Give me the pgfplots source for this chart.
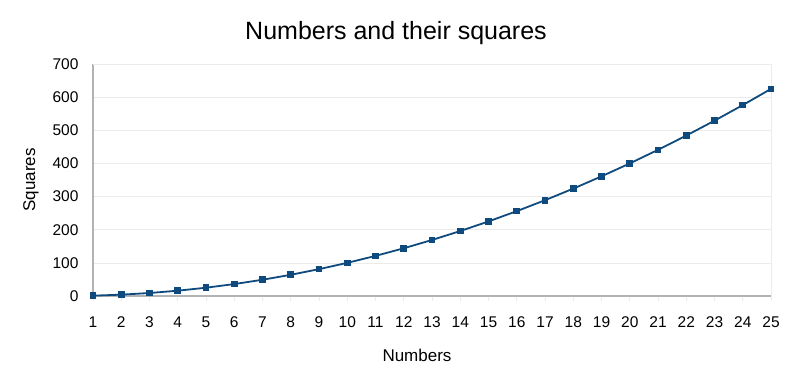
\documentclass[border=0pt]{standalone}
\usepackage{pgfplots}
\pgfplotsset{compat=1.18}
\usepackage{fontspec}
\setmainfont{Liberation Sans}
\definecolor{lineblue}{HTML}{0F4A7E}
\definecolor{gridc}{HTML}{EBEBEB}
\definecolor{axc}{HTML}{B3B3B3}
\begin{document}
\begin{tikzpicture}[x=1pt,y=1pt]
\useasboundingbox (-93,-78) rectangle (699,296);
\begin{axis}[
  at={(0,0)}, anchor=south west,
  scale only axis, width=678pt, height=232pt,
  xmin=1, xmax=25, ymin=0, ymax=700,
  xtick={1,...,25}, ytick={0,100,...,700},
  axis x line*=bottom, axis y line*=left,
  axis line style={axc, line width=1.2pt, -},
  ymajorgrids, grid style={gridc, line width=0.6pt},
  tick style={axc, line width=0.6pt},
  xtick style={draw=gridc}, ytick style={draw=none},
  tick align=outside, major tick length=5pt,
  /pgf/number format/assume math mode=true,
  ticklabel style={font=\fontsize{15.5}{18}\selectfont, black},
  xticklabel style={yshift=-12pt},
  yticklabel style={xshift=-6pt},
  title={Numbers and their squares},
  title style={font=\fontsize{25}{29}\selectfont, yshift=10pt, xshift=-36pt},
  xlabel={Numbers}, ylabel={Squares},
  label style={font=\fontsize{17}{20}\selectfont},
  xlabel style={yshift=-15pt, xshift=-15pt},
  ylabel style={yshift=7pt},
  clip=false,
]
\draw[gridc, line width=0.6pt] (axis cs:25,0) -- (axis cs:25,700);
\draw[gridc, line width=0.6pt] (axis cs:1,700) -- (axis cs:25,700);
\addplot[lineblue, line width=1.8pt, mark=square*, mark size=2.4pt, mark options={fill=lineblue}] coordinates {
(1,1) (2,4) (3,9) (4,16) (5,25) (6,36) (7,49) (8,64) (9,81) (10,100)
(11,121) (12,144) (13,169) (14,196) (15,225) (16,256) (17,289) (18,324)
(19,361) (20,400) (21,441) (22,484) (23,529) (24,576) (25,625)
};
\end{axis}
\end{tikzpicture}
\end{document}
